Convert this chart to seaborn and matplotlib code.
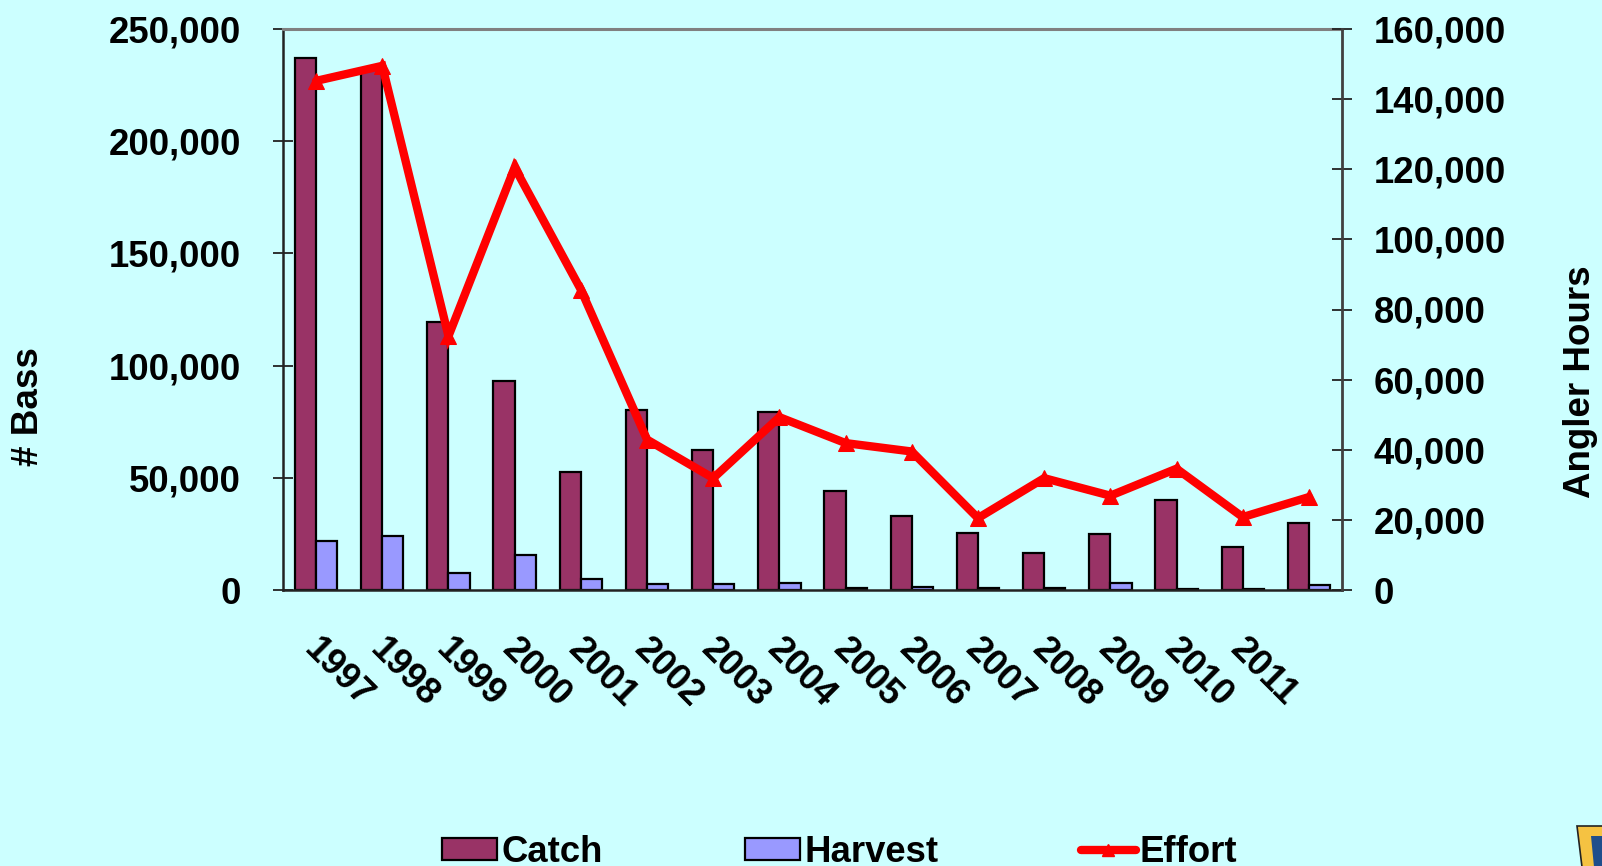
import numpy as np
import pandas as pd
import matplotlib
matplotlib.use("Agg")
import matplotlib.pyplot as plt
import seaborn as sns
from matplotlib.ticker import FuncFormatter
from matplotlib.patches import Patch, Polygon
from matplotlib.lines import Line2D

# ---------------- data ----------------
years = ["1997", "1998", "1999", "2000", "2001", "2002", "2003", "2004",
         "2005", "2006", "2007", "2008", "2009", "2010", "2011", "2012"]
tick_labels = ["1997", "1998", "1999", "2000", "2001", "2002", "2003", "2004",
               "2005", "2006", "2007", "2008", "2009", "2010", "2011"]
catch = [237000, 232000, 119500, 93000, 52500, 80400, 62200, 79200,
         43900, 33000, 25300, 16400, 25000, 40000, 19300, 30000]
harvest = [22000, 24000, 7600, 15600, 5100, 2700, 2700, 3000,
           800, 1500, 900, 700, 3000, 500, 400, 2200]
effort = [145200, 149500, 72400, 120500, 85700, 42900, 31900, 49300,
          41900, 39500, 20500, 31900, 26900, 34600, 20800, 26500]
left_ticks = [0, 50000, 100000, 150000, 200000, 250000]
right_ticks = [0, 20000, 40000, 60000, 80000, 100000, 120000, 140000, 160000]
series_names = ["Catch", "Harvest", "Effort"]

# ---------------- style ----------------
BG = "#CCFFFF"
C_CATCH = "#993366"
C_HARV = "#9999FF"
C_EFF = "#FF0000"
FS = 26.3

sns.set_style("white")
plt.rcParams["font.family"] = ["Liberation Sans", "DejaVu Sans"]
plt.rcParams["font.weight"] = "bold"
plt.rcParams["text.color"] = "black"
plt.rcParams["xtick.color"] = "black"
plt.rcParams["ytick.color"] = "black"
plt.rcParams["axes.labelcolor"] = "black"

df = pd.DataFrame({
    "Year": years * 2,
    "Value": catch + harvest,
    "Series": [series_names[0]] * len(years) + [series_names[1]] * len(years),
})

fig = plt.figure(figsize=(16.02, 8.66), dpi=100, facecolor=BG)
ax = fig.add_axes([283 / 1602, 1 - 590 / 866, (1342 - 283) / 1602, (590 - 29) / 866])
ax.set_facecolor(BG)

sns.barplot(data=df, x="Year", y="Value", hue="Series",
            palette=[C_CATCH, C_HARV], saturation=1, width=0.64, gap=0,
            edgecolor="black", linewidth=1.6, legend=False, ax=ax,
            errorbar=None)

n = len(years)
ax.set_xlim(-0.5, n - 0.5)
ax.set_ylim(0, 250000)
ax.set_yticks(left_ticks)
fmt = FuncFormatter(lambda v, p: f"{int(v):,}")
ax.yaxis.set_major_formatter(fmt)
ax.set_xlabel("")
ax.set_ylabel("")

# x tick labels at group centres (slightly offset), tick marks at boundaries
ax.set_xticks(np.arange(len(tick_labels)) + 0.08)
ax.set_xticklabels(tick_labels)
ax.set_xticks(np.arange(-0.5, n, 1.0), minor=True)
ax.tick_params(axis="x", which="major", length=0, pad=30, labelsize=FS,
               labelcolor="black")
ax.tick_params(axis="x", which="minor", direction="inout", length=16,
               width=1.3, color="#333333")
for lab in ax.get_xticklabels():
    lab.set_rotation(-45)
    lab.set_rotation_mode("anchor")
    lab.set_ha("left")
    lab.set_va("top")
    lab.set_fontweight("bold")

ax.tick_params(axis="y", direction="inout", length=15, width=1.3,
               color="#222222", pad=22.7, labelsize=FS, labelcolor="black")
for lab in ax.get_yticklabels():
    lab.set_fontweight("bold")

for s in ["left", "bottom"]:
    ax.spines[s].set_color("#222222")
    ax.spines[s].set_linewidth(1.8)
ax.spines["top"].set_color("#808080")
ax.spines["top"].set_linewidth(2.2)
ax.spines["right"].set_visible(False)

# secondary axis
ax2 = ax.twinx()
sns.lineplot(x=np.arange(n), y=effort, ax=ax2, color=C_EFF, linewidth=6,
             marker="^", markersize=12, markeredgecolor=C_EFF,
             markerfacecolor=C_EFF, legend=False)
for l in ax2.lines:
    l.set_solid_joinstyle("miter")
ax2.set_ylim(0, 160000)
ax2.set_xlim(-0.5, n - 0.5)
ax2.set_yticks(right_ticks)
ax2.yaxis.set_major_formatter(fmt)
ax2.tick_params(axis="y", direction="inout", length=15, width=1.3,
                color="#222222", pad=15.5, labelsize=FS, labelcolor="black")
for lab in ax2.get_yticklabels():
    lab.set_fontweight("bold")
for s in ["left", "top", "bottom"]:
    ax2.spines[s].set_visible(False)
ax2.spines["right"].set_color("#404040")
ax2.spines["right"].set_linewidth(2.0)

# axis titles
fig.text(29 / 1602, 1 - 407 / 866, "# Bass", rotation=90, ha="center",
         va="center", fontsize=26.5, fontweight="bold", color="black")
fig.text(1580 / 1602, 1 - 382 / 866, "Angler Hours", rotation=90, ha="center",
         va="center", fontsize=26.5, fontweight="bold", color="black")

# legend (partly cut by the bottom edge, as in the reference)
handles = [
    Patch(facecolor=C_CATCH, edgecolor="black", linewidth=1.6),
    Patch(facecolor=C_HARV, edgecolor="black", linewidth=1.6),
    Line2D([0], [0], color=C_EFF, linewidth=6, marker="^", markersize=9),
]
leg = fig.legend(handles, series_names, ncol=3, loc="center left",
                 bbox_to_anchor=(442 / 1602, 1 - 852 / 866), frameon=False,
                 handlelength=1.5, handleheight=0.55, handletextpad=0.12,
                 columnspacing=3.9, borderaxespad=0, borderpad=0,
                 prop={"size": FS, "weight": "bold"})
for t in leg.get_texts():
    t.set_color("black")

# partial logo in the corner
W, H = 1602, 866
def fp(pts):
    return [(x / W, 1 - y / H) for x, y in pts]
fig.add_artist(Polygon(fp([(1577, 826), (1603, 826), (1603, 867), (1582, 867)]),
                       closed=True, facecolor="#F5C242", edgecolor="#222222",
                       linewidth=1.2, transform=fig.transFigure))
fig.add_artist(Polygon(fp([(1591, 836), (1603, 836), (1603, 867), (1594, 867)]),
                       closed=True, facecolor="#1F4E8C", edgecolor="none",
                       transform=fig.transFigure))

fig.savefig("out.png", dpi=100, facecolor=BG)
